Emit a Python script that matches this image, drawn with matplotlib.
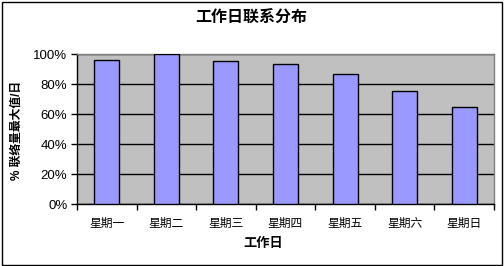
import matplotlib
matplotlib.use("Agg")
import matplotlib.pyplot as plt
from matplotlib.ticker import PercentFormatter, FixedLocator, NullFormatter
from matplotlib.patches import Rectangle

plt.rcParams['font.family'] = ['Liberation Sans', 'Noto Sans CJK SC']

days = ['星期一', '星期二', '星期三', '星期四', '星期五', '星期六', '星期日']
share = [96.0, 100.0, 95.3, 93.7, 86.7, 75.3, 64.7]
y_ticks = [0, 20, 40, 60, 80, 100]

title = '工作日联系分布'
x_title = '工作日'
y_title = '% 联络量最大值/日'

W, H = 504, 266
fig = plt.figure(figsize=(W / 100, H / 100), dpi=100)
fig.patch.set_facecolor('white')

# outer chart frame
fig.patches.append(Rectangle((1.5 / W, 1.5 / H), (W - 3.5) / W, (H - 3.5) / H,
                             transform=fig.transFigure, fill=False,
                             edgecolor='black', linewidth=1.0))

ax = fig.add_axes([77 / W, 1 - 204.3 / H, (494 - 77) / W, (204.3 - 54.3) / H])
ax.set_facecolor('#C0C0C0')

x = list(range(len(days)))
ax.bar(x, share, width=0.42, color='#9999FF', edgecolor='black',
       linewidth=1.0, zorder=3)

ax.set_xlim(-0.5, len(days) - 0.5)
ax.set_ylim(0, 100)
ax.set_yticks(y_ticks)
ax.yaxis.set_major_formatter(PercentFormatter(decimals=0))
ax.yaxis.grid(True, color='black', linewidth=1.0, zorder=1)
ax.set_axisbelow(True)

# category labels centred, ticks at category boundaries
ax.xaxis.set_major_locator(FixedLocator([i - 0.5 for i in range(len(days) + 1)]))
ax.xaxis.set_major_formatter(NullFormatter())
ax.xaxis.set_minor_locator(FixedLocator(x))
ax.set_xticklabels(days, minor=True)
ax.tick_params(axis='x', which='minor', length=0, pad=10, labelsize=8.5)
ax.tick_params(axis='x', which='major', direction='out', length=4, width=1, color='black')
ax.tick_params(axis='y', direction='out', length=4, width=1, color='black', labelsize=9.5, pad=3)

for side in ('top', 'right'):
    ax.spines[side].set_color('#808080')
    ax.spines[side].set_linewidth(1.0)
for side in ('left', 'bottom'):
    ax.spines[side].set_color('black')
    ax.spines[side].set_linewidth(1.0)

fig.text(251 / W, 1 - 18.5 / H, title, ha='center', va='center',
         fontsize=11.5, fontweight='bold')
fig.text(263 / W, 1 - 244 / H, x_title, ha='center', va='center',
         fontsize=9.5, fontweight='bold')
fig.text(17 / W, 1 - 130 / H, y_title, ha='center', va='center',
         rotation=90, fontsize=8.5, fontweight='bold')

fig.savefig('out.png', dpi=100)
